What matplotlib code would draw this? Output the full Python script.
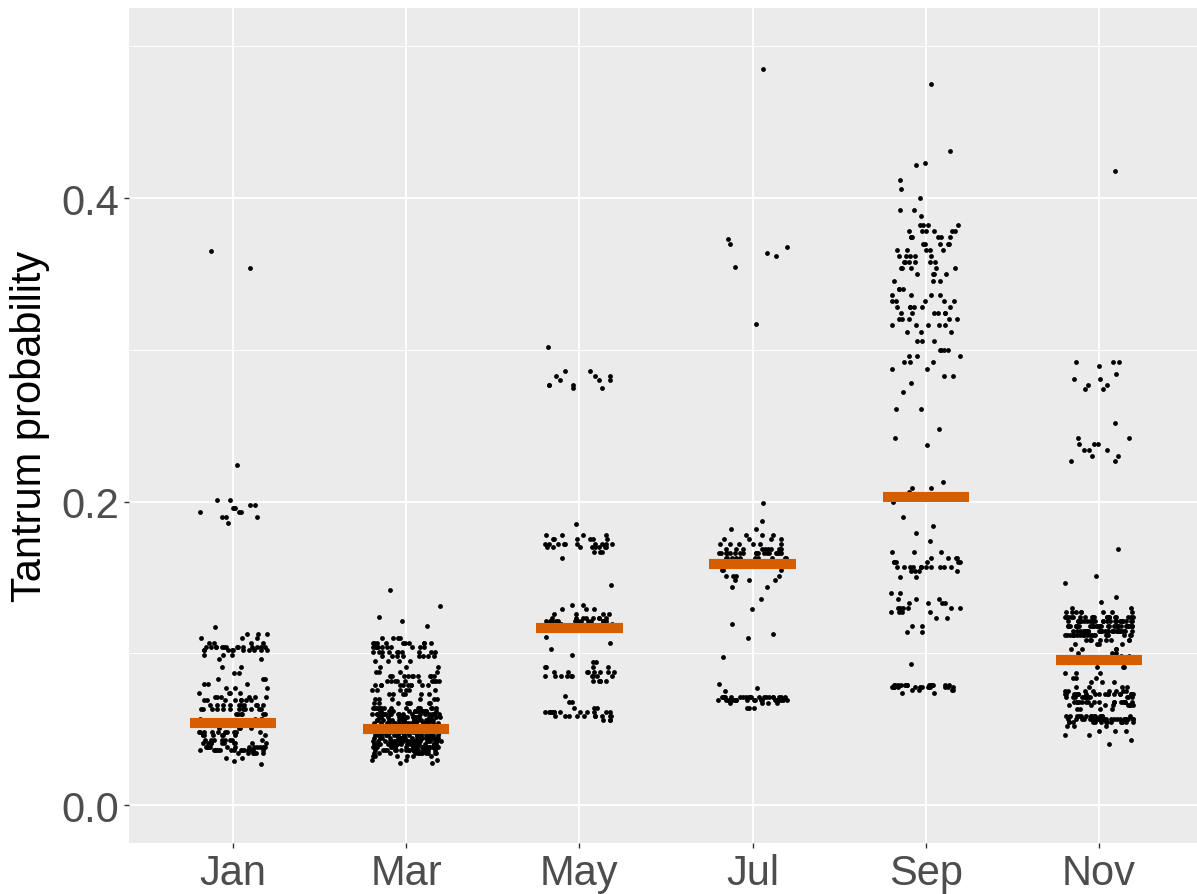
"""Jittered strip chart of tantrum probability by month, with orange median bars."""
import numpy as np
import matplotlib
matplotlib.use("Agg")
import matplotlib.pyplot as plt

MONTHS = ["Jan", "Mar", "May", "Jul", "Sep", "Nov"]

# Orange bar values
MEDIANS = [0.054, 0.050, 0.1166, 0.159, 0.203, 0.0955]

# Each month: probability levels and how many points sit at each level
JAN_LEVELS = [0.365, 0.354, 0.224,
              0.201, 0.198, 0.196, 0.193, 0.190, 0.186,
              0.117, 0.113, 0.110, 0.107, 0.104, 0.102, 0.099, 0.096,
              0.091, 0.087, 0.083, 0.080, 0.077,
              0.074, 0.071, 0.069, 0.066, 0.063, 0.060,
              0.057, 0.054, 0.051,
              0.048, 0.046, 0.043, 0.041,
              0.038, 0.036, 0.034, 0.031, 0.029, 0.027]
JAN_COUNTS = [1, 1, 1,
              2, 2, 3, 3, 3, 1,
              1, 3, 3, 4, 14, 10, 3, 2,
              2, 2, 3, 3, 3,
              4, 6, 8, 10, 12, 6,
              4, 5, 4,
              10, 8, 8, 10,
              12, 16, 6, 2, 1, 1]

MAR_LEVELS = [0.142, 0.131, 0.124, 0.121, 0.118,
              0.110, 0.107, 0.104, 0.101, 0.098, 0.095,
              0.091, 0.088, 0.085, 0.082, 0.079, 0.076,
              0.073, 0.070, 0.067,
              0.064, 0.062, 0.060, 0.058, 0.056, 0.054, 0.052, 0.050,
              0.048, 0.046, 0.044, 0.042, 0.040, 0.038, 0.036, 0.034,
              0.032, 0.030, 0.028]
MAR_COUNTS = [1, 1, 1, 1, 1,
              4, 10, 10, 10, 8, 4,
              3, 4, 10, 10, 10, 6,
              6, 6, 8,
              15, 18, 20, 20, 22, 22, 20, 15,
              20, 22, 24, 24, 24, 22, 18, 12,
              6, 3, 2]

MAY_LEVELS = [0.302, 0.286, 0.283, 0.280, 0.277, 0.275,
              0.185, 0.178, 0.175, 0.172, 0.170, 0.167, 0.163,
              0.145,
              0.132, 0.129, 0.126, 0.123, 0.121, 0.119,
              0.111, 0.107, 0.103, 0.099,
              0.094, 0.091, 0.088, 0.085, 0.082,
              0.072,
              0.068, 0.064, 0.061, 0.059, 0.056]
MAY_COUNTS = [1, 2, 3, 3, 3, 2,
              1, 4, 6, 10, 8, 3, 1,
              1,
              2, 3, 4, 8, 14, 6,
              1, 1, 1, 1,
              2, 4, 8, 10, 5,
              1,
              2, 3, 14, 10, 3]

JUL_LEVELS = [0.485, 0.373, 0.370, 0.368, 0.364, 0.362, 0.3545, 0.317,
              0.199, 0.187, 0.182, 0.178, 0.175, 0.172, 0.169, 0.166, 0.163, 0.160,
              0.155, 0.151, 0.148, 0.144,
              0.136, 0.129, 0.119, 0.113, 0.110,
              0.0975,
              0.080, 0.077, 0.075,
              0.071, 0.069, 0.067, 0.064]
JUL_COUNTS = [1, 1, 1, 1, 1, 1, 1, 1,
              1, 1, 2, 3, 4, 6, 10, 18, 10, 4,
              3, 4, 3, 2,
              1, 1, 1, 1, 1,
              1,
              1, 1, 1,
              20, 22, 4, 3]

SEP_LEVELS = [0.475, 0.431, 0.423, 0.422, 0.412, 0.406, 0.400, 0.392, 0.388,
              0.382, 0.378, 0.374, 0.370, 0.366, 0.362, 0.358, 0.354,
              0.350, 0.345, 0.340, 0.336, 0.332, 0.328, 0.324, 0.320, 0.316, 0.312,
              0.306, 0.300, 0.296, 0.292, 0.287, 0.283, 0.278, 0.272,
              0.261, 0.248, 0.242, 0.237,
              0.213, 0.209, 0.206,
              0.200, 0.190, 0.184, 0.179, 0.174,
              0.167, 0.163, 0.160, 0.157, 0.154, 0.150,
              0.140, 0.136, 0.133, 0.130, 0.127, 0.123, 0.118, 0.114,
              0.093,
              0.079, 0.078, 0.076, 0.074]
SEP_COUNTS = [1, 1, 1, 1, 1, 1, 1, 2, 1,
              4, 6, 6, 5, 5, 5, 6, 5,
              4, 3, 3, 4, 5, 6, 6, 5, 5, 3,
              3, 4, 3, 3, 2, 2, 1, 1,
              2, 1, 1, 1,
              1, 2, 1,
              1, 1, 1, 1, 1,
              3, 4, 6, 12, 4, 2,
              2, 3, 4, 6, 4, 2, 2, 2,
              1,
              14, 14, 4, 2]

NOV_LEVELS = [0.418,
              0.292, 0.289, 0.284, 0.281, 0.277, 0.274,
              0.252, 0.242, 0.238, 0.234, 0.230, 0.227,
              0.169, 0.151, 0.146, 0.137, 0.134, 0.130,
              0.127, 0.124, 0.121, 0.118, 0.115, 0.112, 0.109,
              0.106, 0.103, 0.100, 0.098,
              0.091, 0.087, 0.084, 0.081, 0.078,
              0.075, 0.073, 0.071, 0.068, 0.066, 0.063,
              0.059, 0.057, 0.055,
              0.052, 0.049, 0.046, 0.043, 0.040]
NOV_COUNTS = [1,
              3, 1, 1, 2, 2, 2,
              1, 2, 3, 3, 2, 2,
              1, 1, 1, 1, 1, 2,
              8, 20, 28, 30, 30, 20, 8,
              4, 4, 3, 2,
              3, 3, 3, 3, 4,
              8, 18, 12, 16, 8, 4,
              14, 30, 14,
              3, 3, 2, 1, 1]

LEVELS = [JAN_LEVELS, MAR_LEVELS, MAY_LEVELS, JUL_LEVELS, SEP_LEVELS, NOV_LEVELS]
COUNTS = [JAN_COUNTS, MAR_COUNTS, MAY_COUNTS, JUL_COUNTS, SEP_COUNTS, NOV_COUNTS]

JITTER = 0.2      # half-width of horizontal spread, in category units
BAR_HALF = 0.25   # half-width of the median bar

plt.rcParams["font.family"] = ["Liberation Sans", "DejaVu Sans"]

fig = plt.figure(figsize=(11.97, 8.95), dpi=100)
ax = fig.add_axes([129 / 1197, 51 / 895, 1074 / 1197, 835 / 895])
ax.set_facecolor("#EBEBEB")

for i, (lv, ct) in enumerate(zip(LEVELS, COUNTS)):
    y = np.repeat(lv, ct)
    # deterministic hash spread of horizontal position (layout only)
    k = np.arange(len(y)) + 1000 * i
    frac = (np.sin(k * 12.9898 + 78.233) * 43758.5453) % 1.0
    x = i + (frac - 0.5) * 2 * JITTER
    ax.scatter(x, y, s=12, color="black", linewidths=0, zorder=3)

xs = np.arange(len(MONTHS))
ax.hlines(MEDIANS, xs - BAR_HALF, xs + BAR_HALF, colors="#D55E00",
          linewidth=7.3, zorder=4)

ax.set_xlim(-0.6, len(MONTHS) - 0.4)
ax.set_ylim(-0.025, 0.5252)
ax.set_xticks(xs)
ax.set_xticklabels(MONTHS)
ax.set_yticks([0.0, 0.2, 0.4])
ax.set_yticklabels(["0.0", "0.2", "0.4"])
ax.set_yticks([0.1, 0.3, 0.5], minor=True)

ax.grid(True, which="major", color="white", linewidth=1.4, zorder=0)
ax.grid(True, which="minor", axis="y", color="white", linewidth=0.7, zorder=0)
ax.set_axisbelow(True)
for sp in ax.spines.values():
    sp.set_visible(False)

ax.tick_params(axis="both", which="major", length=3.6, width=1.0,
               color="#333333", labelcolor="#4D4D4D", labelsize=30, pad=3.5)
ax.tick_params(axis="y", which="minor", length=0)

ax.set_ylabel("Tantrum probability", fontsize=30, color="black")
ax.yaxis.set_label_coords(-0.074, 0.5)

fig.savefig("out.png", dpi=100)
